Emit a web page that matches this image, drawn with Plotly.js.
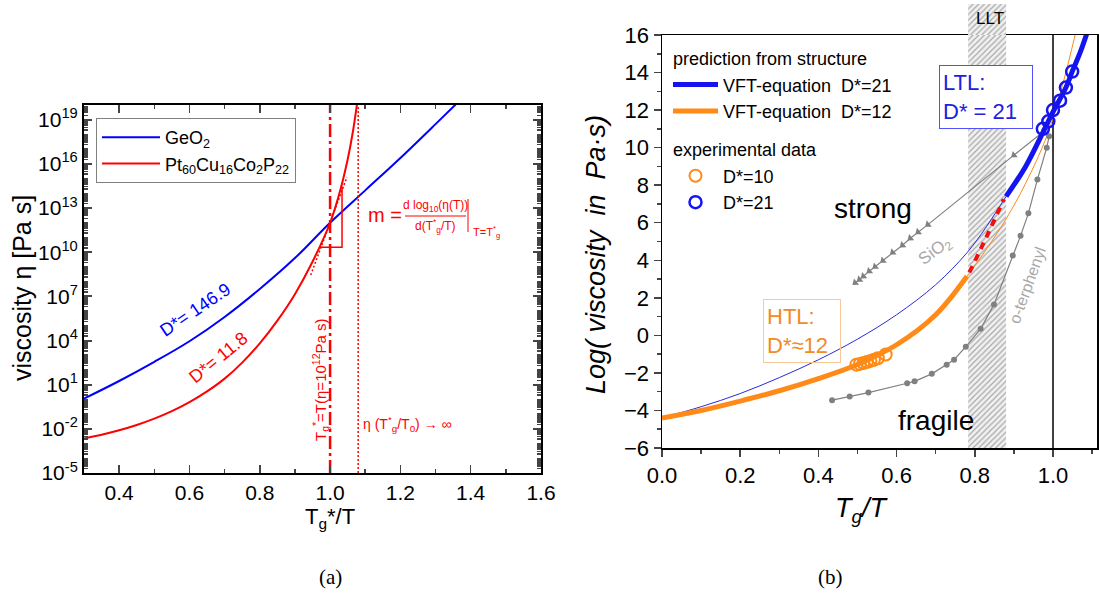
<!DOCTYPE html>
<html>
<head>
<meta charset="utf-8">
<script src="https://cdn.plot.ly/plotly-3.0.1.min.js"></script>
<style>
  html, body { margin: 0; padding: 0; background: #ffffff; }
  #chart { width: 1099px; height: 597px; }
</style>
</head>
<body>
<div id="chart"></div>
<script>
// ---------- panel (a): viscosity curves on a log scale ----------
const xGeO2 = [0.30, 0.40, 0.50, 0.60, 0.70, 0.80, 0.90, 1.00, 1.10, 1.20, 1.30, 1.36];
const logEtaGeO2 = [0.05, 1.25, 2.55, 3.95, 5.6, 7.5, 9.6, 12.0, 14.2, 16.4, 18.7, 20.1];

const xPt = [0.30, 0.35, 0.40, 0.45, 0.50, 0.55, 0.60, 0.65, 0.70, 0.75, 0.80, 0.85, 0.90, 0.95, 1.00, 1.03, 1.05, 1.065, 1.078];
const logEtaPt = [-2.65, -2.40, -2.10, -1.74, -1.31, -0.80, -0.19, 0.54, 1.41, 2.50, 3.80, 5.35, 7.15, 9.35, 12.0, 14.3, 16.3, 18.2, 20.3];

const logTickVals = [-5, -2, 1, 4, 7, 10, 13, 16, 19];
const logTickText = ['10<sup>-5</sup>', '10<sup>-2</sup>', '10<sup>1</sup>', '10<sup>4</sup>', '10<sup>7</sup>',
                     '10<sup>10</sup>', '10<sup>13</sup>', '10<sup>16</sup>', '10<sup>19</sup>'];

const tgStar = 1.0;          // T*g / T = 1 where eta = 1e12 Pa s
const divergence = 1.08;     // T*g / T0
const logEtaSpan = [-5, 20];

const xTangent = [0.945, 1.048];
const logEtaTangent = [8.45, 15.1];
const xSlopeTri = [0.971, 1.034, 1.034];
const logEtaSlopeTri = [10.33, 10.33, 14.45];

// ---------- panel (b): log viscosity vs Tg/T ----------
const xD21 = [0.00, 0.10, 0.20, 0.30, 0.40, 0.50, 0.60, 0.70, 0.78, 0.83, 0.88, 0.93, 0.974, 1.00, 1.033, 1.05, 1.07, 1.09];
const logD21 = [-4.4, -3.8, -3.1, -2.25, -1.3, -0.2, 1.1, 2.7, 4.4, 5.8, 7.4, 9.0, 10.8, 11.9, 13.2, 14.1, 15.1, 16.3];

const xD12 = [0.00, 0.10, 0.20, 0.30, 0.40, 0.50, 0.60, 0.70, 0.78, 0.83, 0.88, 0.93, 0.984, 1.02, 1.06];
const logD12 = [-4.4, -4.0, -3.5, -2.95, -2.3, -1.55, -0.5, 1.1, 3.15, 4.6, 6.2, 8.1, 10.6, 13.0, 16.3];

const htlLimit = 0.783;      // high-temperature liquid branch ends here
const ltlStart = 0.88;       // low-temperature liquid branch starts here
const xTransition = [0.786, 0.83, 0.874];
const logTransition = [3.35, 5.25, 7.25];

const xExpD10 = [0.497, 0.506, 0.515, 0.524, 0.533, 0.542, 0.552, 0.572];
const logExpD10 = [-1.56, -1.52, -1.47, -1.42, -1.36, -1.3, -1.22, -1.02];

const xExpD21 = [0.974, 0.988, 1.000, 1.018, 1.033, 1.049];
const logExpD21 = [11.0, 11.4, 12.0, 12.5, 13.2, 14.05];

const xSiO2 = [0.494, 0.505, 0.515, 0.530, 0.545, 0.565, 0.590, 0.615, 0.635, 0.655, 0.680, 0.900, 0.975];
const logSiO2 = [2.8, 2.97, 3.15, 3.42, 3.66, 3.98, 4.42, 4.8, 5.17, 5.5, 5.9, 9.6, 10.85];

const xOTP = [0.435, 0.480, 0.528, 0.627, 0.646, 0.690, 0.728, 0.747, 0.777, 0.815, 0.849, 0.897, 0.917, 0.937, 0.960, 0.984, 0.990];
const logOTP = [-3.45, -3.25, -3.05, -2.55, -2.45, -2.05, -1.57, -1.3, -0.6, 0.35, 1.65, 4.25, 5.3, 6.5, 8.3, 10.0, 10.6];

const bandLLT = [0.783, 0.880];
const logRangeB = [-6, 16];
const tgLineB = 1.0;

// ---------- figure geometry ----------
const W = 1099, H = 597;
const px = p => p / W;
const py = p => 1 - p / H;
const FONT = 'Liberation Sans, Arial, sans-serif';
const RED = '#ff0000', BLUE = '#0000ff';
const BLUE_B = '#1414f0', ORANGE = '#ff8a17', GRAY = '#808080';

const pow10 = arr => arr.map(v => Math.pow(10, v));
const pick = (xs, ys, keep) => {
  const xo = [], yo = [];
  xs.forEach((x, i) => { if (keep(x)) { xo.push(x); yo.push(ys[i]); } });
  return [xo, yo];
};

const [xHTL, logHTL] = pick(xD12, logD12, x => x <= htlLimit);
const [xLTL, logLTL] = pick(xD21, logD21, x => x >= ltlStart);

const bandX = [bandLLT[0], bandLLT[1], bandLLT[1], bandLLT[0], bandLLT[0]];
const hatch = {shape: '/', size: 4, solidity: 0.3, fgcolor: '#a8a8a8', bgcolor: '#f1f1f1'};

const traces = [
  // panel (a)
  {x: xGeO2, y: pow10(logEtaGeO2), xaxis: 'x', yaxis: 'y', mode: 'lines', name: 'GeO<sub>2</sub>',
   line: {color: BLUE, width: 2, shape: 'spline'}, legend: 'legend'},
  {x: xPt, y: pow10(logEtaPt), xaxis: 'x', yaxis: 'y', mode: 'lines',
   name: 'Pt<sub>60</sub>Cu<sub>16</sub>Co<sub>2</sub>P<sub>22</sub>',
   line: {color: RED, width: 2, shape: 'spline'}, legend: 'legend'},
  {x: [tgStar, tgStar], y: pow10(logEtaSpan), xaxis: 'x', yaxis: 'y', mode: 'lines', showlegend: false,
   line: {color: RED, width: 2.5, dash: '13px,4px,3px,4px'}},
  {x: [divergence, divergence], y: pow10(logEtaSpan), xaxis: 'x', yaxis: 'y', mode: 'lines', showlegend: false,
   line: {color: RED, width: 1.5, dash: '2px,2px'}},
  {x: xTangent, y: pow10(logEtaTangent), xaxis: 'x', yaxis: 'y', mode: 'lines', showlegend: false,
   line: {color: RED, width: 1.5, dash: '2px,2px'}},
  {x: xSlopeTri, y: pow10(logEtaSlopeTri), xaxis: 'x', yaxis: 'y', mode: 'lines', showlegend: false,
   line: {color: RED, width: 1.5}},

  // panel (b): liquid-liquid transition band
  {x: bandX, y: [logRangeB[0], logRangeB[0], logRangeB[1], logRangeB[1], logRangeB[0]],
   xaxis: 'x2', yaxis: 'y2', mode: 'lines', fill: 'toself', fillcolor: '#f1f1f1', fillpattern: hatch,
   line: {width: 0}, showlegend: false},
  {x: bandX, y: [0, 0, 1, 1, 0], xaxis: 'x3', yaxis: 'y4', mode: 'lines', fill: 'toself',
   fillcolor: '#f1f1f1', fillpattern: hatch, line: {width: 0}, showlegend: false},
  {x: [tgLineB, tgLineB], y: logRangeB, xaxis: 'x2', yaxis: 'y2', mode: 'lines', showlegend: false,
   line: {color: '#000000', width: 1.5}},

  // thin full VFT curves
  {x: xD21, y: logD21, xaxis: 'x2', yaxis: 'y2', mode: 'lines', showlegend: false,
   line: {color: '#2a2ad8', width: 1, shape: 'spline'}},
  {x: xD12, y: logD12, xaxis: 'x2', yaxis: 'y2', mode: 'lines', showlegend: false,
   line: {color: ORANGE, width: 1, shape: 'spline'}},

  // reference liquids
  {x: xSiO2, y: logSiO2, xaxis: 'x2', yaxis: 'y2', mode: 'lines+markers', showlegend: false,
   line: {color: GRAY, width: 1.2},
   marker: {symbol: 'triangle-left', angle: -39, size: 7, color: GRAY}},
  {x: xOTP, y: logOTP, xaxis: 'x2', yaxis: 'y2', mode: 'lines+markers', showlegend: false,
   line: {color: GRAY, width: 1.2}, marker: {symbol: 'circle', size: 6, color: GRAY}},

  // thick branches (legend entries)
  {x: xLTL, y: logLTL, xaxis: 'x2', yaxis: 'y2', mode: 'lines', legend: 'legend2',
   name: 'VFT-equation\u00a0\u00a0D*=21', legendgroup: 'pred',
   legendgrouptitle: {text: 'prediction from structure'},
   line: {color: BLUE_B, width: 5, shape: 'spline'}},
  {x: xHTL, y: logHTL, xaxis: 'x2', yaxis: 'y2', mode: 'lines', legend: 'legend2',
   name: 'VFT-equation\u00a0\u00a0D*=12', legendgroup: 'pred',
   line: {color: ORANGE, width: 5, shape: 'spline'}},
  {x: xTransition, y: logTransition, xaxis: 'x2', yaxis: 'y2', mode: 'lines', showlegend: false,
   line: {color: '#ee1111', width: 4, dash: '7px,6px', shape: 'spline'}},

  // experimental data
  {x: xExpD10, y: logExpD10, xaxis: 'x2', yaxis: 'y2', mode: 'markers', legend: 'legend2',
   name: 'D*=10', legendgroup: 'exp', legendgrouptitle: {text: 'experimental data'},
   marker: {symbol: 'circle-open', size: 12, color: ORANGE, line: {width: 2, color: ORANGE}}},
  {x: xExpD21, y: logExpD21, xaxis: 'x2', yaxis: 'y2', mode: 'markers', legend: 'legend2',
   name: 'D*=21', legendgroup: 'exp',
   marker: {symbol: 'circle-open', size: 12, color: BLUE_B, line: {width: 2.5, color: BLUE_B}}}
];

const tickFontA = {family: FONT, size: 21, color: '#000'};
const tickFontB = {family: FONT, size: 22, color: '#000'};

const ann = (x, y, text, opts) => Object.assign({
  xref: 'paper', yref: 'paper', x: px(x), y: py(y), text: text, showarrow: false,
  xanchor: 'center', yanchor: 'middle', font: {family: FONT, size: 16, color: '#000'}
}, opts || {});

const annotations = [
  // panel (a) titles
  ann(22, 288, 'viscosity η [Pa s]', {textangle: -90, font: {family: FONT, size: 25, color: '#000'}}),
  ann(330, 518, 'T<sub>g</sub>*/T', {font: {family: FONT, size: 22, color: '#000'}}),
  ann(330, 577, '(a)', {font: {family: 'Liberation Serif, serif', size: 21, color: '#000'}}),
  // panel (a) curve labels
  ann(195, 310, 'D*= 146.9', {textangle: -34, font: {family: FONT, size: 18, color: BLUE}}),
  ann(218, 358, 'D*= 11.8', {textangle: -39, font: {family: FONT, size: 18, color: RED}}),
  ann(320, 380, 'T<sub>g</sub><sup>*</sup>=T(η=10<sup>12</sup>Pa s)',
      {textangle: -90, font: {family: FONT, size: 15, color: RED}}),
  ann(407, 424, 'η (T<sup>*</sup><sub>g</sub>/T<sub>0</sub>) → ∞', {font: {family: FONT, size: 14, color: RED}}),
  // fragility formula
  ann(385, 215, 'm =', {font: {family: FONT, size: 20, color: RED}}),
  ann(435, 206, 'd log<sub>10</sub>(η(T))', {font: {family: FONT, size: 12, color: RED}}),
  ann(435, 226, 'd(T<sup>*</sup><sub>g</sub>/T)', {font: {family: FONT, size: 12, color: RED}}),
  ann(471, 232, 'T=T<sup>*</sup><sub>g</sub>', {xanchor: 'left', font: {family: FONT, size: 11, color: RED}}),

  // panel (b) titles
  ann(596, 255, 'Log( viscosity  in  Pa·s)', {textangle: -90, font: {family: FONT, size: 27, color: '#000', style: 'italic'}}),
  ann(862, 510, 'T<sub>g</sub>/T', {font: {family: FONT, size: 27, color: '#000', style: 'italic'}}),
  ann(830, 577, '(b)', {font: {family: 'Liberation Serif, serif', size: 21, color: '#000'}}),
  ann(990, 18, 'LLT', {font: {family: FONT, size: 17, color: '#000'}}),
  ann(873, 208, 'strong', {font: {family: FONT, size: 28, color: '#000'}}),
  ann(936, 420, 'fragile', {font: {family: FONT, size: 28, color: '#000'}}),
  ann(935, 252, 'SiO<sub>2</sub>', {textangle: -37, font: {family: FONT, size: 17, color: '#a8a8a8'}}),
  ann(1027, 285, 'o-terphenyl', {textangle: -70, font: {family: FONT, size: 16, color: '#a8a8a8'}}),
  ann(986, 97, 'LTL:<br>D* = 21', {align: 'left', width: 86, height: 56, borderpad: 3,
      bordercolor: '#5050ff', borderwidth: 1, bgcolor: '#ffffff',
      font: {family: FONT, size: 22, color: '#2020e0'}}),
  ann(802, 331, 'HTL:<br>D*≈12', {align: 'left', width: 70, height: 56, borderpad: 3,
      bordercolor: '#f7c898', borderwidth: 1, bgcolor: 'rgba(255,255,255,0)',
      font: {family: FONT, size: 22, color: '#f28a26'}})
];

const shapes = [
  {type: 'line', xref: 'paper', yref: 'paper', x0: px(405), x1: px(466), y0: py(216), y1: py(216),
   line: {color: RED, width: 1}},
  {type: 'line', xref: 'paper', yref: 'paper', x0: px(468), x1: px(468), y0: py(199), y1: py(232),
   line: {color: RED, width: 1}}
];

const layout = {
  width: W, height: H,
  margin: {l: 0, r: 0, t: 0, b: 0, pad: 0},
  paper_bgcolor: '#ffffff', plot_bgcolor: 'rgba(0,0,0,0)',
  showlegend: true, hovermode: false,
  font: {family: FONT, color: '#000'},

  xaxis: {domain: [px(84), px(541)], anchor: 'y', range: [0.3, 1.6],
    tick0: 0.4, dtick: 0.2, tickformat: '.1f', ticks: 'inside', ticklen: 8, tickwidth: 1.5,
    minor: {dtick: 0.1, ticks: 'inside', ticklen: 4, tickwidth: 1.5},
    showline: true, linewidth: 2, linecolor: '#000', mirror: 'ticks',
    showgrid: false, zeroline: false, tickfont: tickFontA},
  yaxis: {domain: [1 - 473 / H, 1 - 105 / H], anchor: 'x', type: 'log', range: logEtaSpan,
    tickmode: 'array', tickvals: pow10(logTickVals), ticktext: logTickText,
    ticks: 'inside', ticklen: 8, tickwidth: 2,
    minor: {dtick: 'D1', ticks: 'inside', ticklen: 4, tickwidth: 1.5},
    showline: true, linewidth: 2, linecolor: '#000', mirror: 'ticks',
    showgrid: false, zeroline: false, tickfont: tickFontA},

  xaxis2: {domain: [px(662), px(1097)], anchor: 'y2', range: [0, 1.1125],
    tick0: 0, dtick: 0.2, tickformat: '.1f', ticks: 'outside', ticklen: 7, tickwidth: 1.5,
    minor: {dtick: 0.1, ticks: 'outside', ticklen: 4, tickwidth: 1.5},
    showline: true, linewidth: 1.5, linecolor: '#000', mirror: true,
    showgrid: false, zeroline: false, tickfont: tickFontB},
  yaxis2: {domain: [1 - 448 / H, 1 - 35 / H], anchor: 'x2', range: logRangeB,
    dtick: 2, ticks: 'outside', ticklen: 7, tickwidth: 1.5,
    minor: {dtick: 1, ticks: 'outside', ticklen: 4, tickwidth: 1.5},
    showline: true, linewidth: 1.5, linecolor: '#000', mirror: true,
    showgrid: false, zeroline: false, tickfont: tickFontB},
  yaxis3: {overlaying: 'y2', anchor: 'x2', side: 'right', range: logRangeB,
    dtick: 2, ticks: 'inside', ticklen: 7, tickwidth: 1.5,
    minor: {dtick: 1, ticks: 'inside', ticklen: 4, tickwidth: 1.5},
    showticklabels: false, showline: false, showgrid: false, zeroline: false},
  xaxis3: {domain: [px(662), px(1097)], anchor: 'y4', range: [0, 1.1125], visible: false},
  yaxis4: {domain: [1 - 35 / H, 1 - 4 / H], anchor: 'x3', range: [0, 1], visible: false},

  legend: {x: px(96), y: py(118), xanchor: 'left', yanchor: 'top',
    bgcolor: '#ffffff', bordercolor: '#808080', borderwidth: 1, itemwidth: 58,
    font: {family: FONT, size: 18, color: '#000'}, tracegroupgap: 2},
  legend2: {x: px(668), y: py(40), xanchor: 'left', yanchor: 'top', itemwidth: 45,
    bgcolor: 'rgba(0,0,0,0)', borderwidth: 0, traceorder: 'grouped', tracegroupgap: 12,
    font: {family: FONT, size: 18, color: '#000'},
    grouptitlefont: {family: FONT, size: 18, color: '#000'}},

  annotations: annotations,
  shapes: shapes
};

Plotly.newPlot('chart', traces, layout, {staticPlot: true, displayModeBar: false});
</script>
</body>
</html>
